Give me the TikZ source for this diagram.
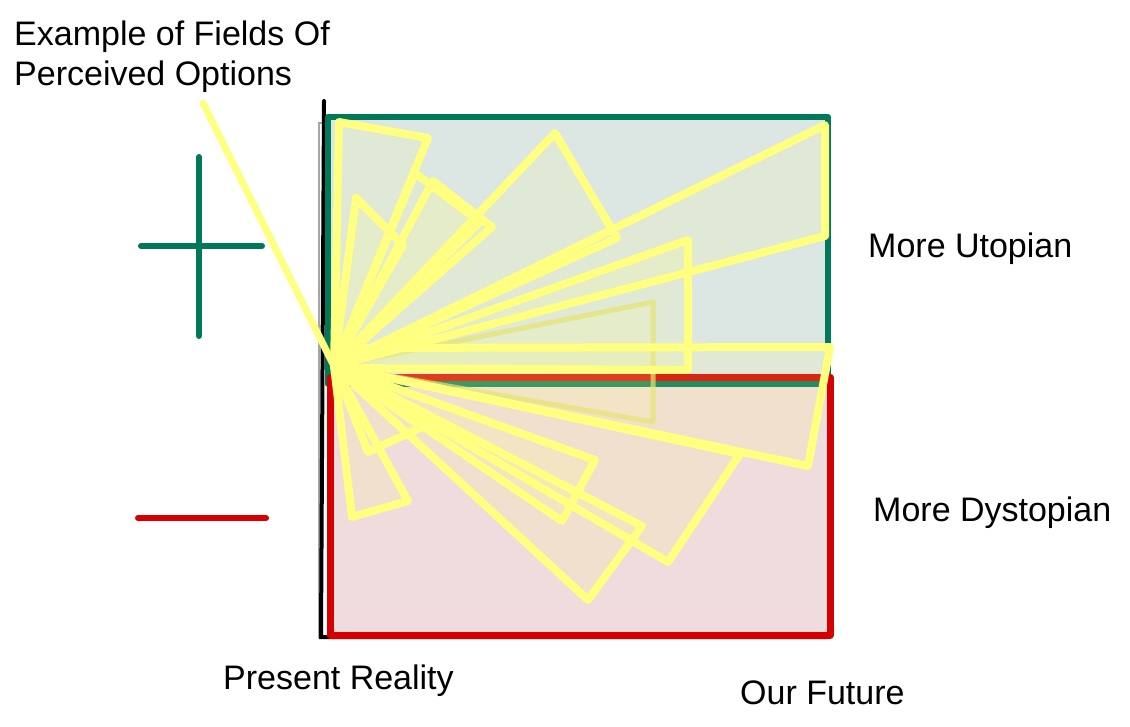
\documentclass[tikz,border=0pt]{standalone}
\usepackage{fontspec}
\setmainfont{Liberation Sans}
\definecolor{boxgreen}{RGB}{0,120,90}
\definecolor{boxred}{RGB}{214,0,0}
\definecolor{fillgreen}{RGB}{220,230,227}
\definecolor{fillred}{RGB}{240,220,221}
\definecolor{fanyellow}{RGB}{255,255,128}
\definecolor{fanolive}{RGB}{225,225,110}
\begin{document}
\begin{tikzpicture}[x=1pt,y=-1pt,
  lbl/.style={anchor=base west, inner sep=0pt, font=\fontsize{34}{40}\selectfont},
  tri/.style={draw=fanyellow, line width=8pt, line join=round, line cap=round,
              fill=fanyellow, fill opacity=0.14},
  faint/.style={draw=fanolive, draw opacity=0.7, line width=5pt, line join=round,
              fill=fanyellow, fill opacity=0.12},
  sign/.style={line width=6pt, line cap=round}]
\useasboundingbox (0,0) rectangle (1130,727);

% axes / frame
\draw[gray!70, line width=1.5pt] (319,123) rectangle (826,637);
\draw[black, line width=4pt, line cap=round] (324,101) -- (321,637) -- (828,637);

% boxes
\fill[fillgreen] (328,117) rectangle (828,384);
\fill[fillred] (330,377) rectangle (830,635);
\draw[boxgreen, line width=6pt, line join=round] (328,117) rectangle (828,384);
\draw[boxred, line width=7pt, line join=round] (330,377) rectangle (830,635);

% plus / minus signs
\draw[sign, boxgreen] (199,157) -- (199,336);
\draw[sign, boxgreen] (141,246) -- (262,246);
\draw[sign, boxred] (138,518) -- (266,518);

% fan of perceived options
\coordinate (o) at (334,366);
\coordinate (oh) at (338,348);
\coordinate (ol) at (340,368);
\draw[faint] (o) -- (653,302) -- (653,422) -- cycle;
\draw[tri] (o) -- (339,122) -- (428,138) -- cycle;
\draw[tri] (o) -- (356,198) -- (403,245) -- cycle;
\draw[tri] (o) -- (415,173) -- (480,222) -- cycle;
\draw[tri] (o) -- (433,181) -- (492,227) -- cycle;
\draw[tri] (o) -- (555,133) -- (617,238) -- cycle;
\draw[tri] (o) -- (825,125) -- (825,236) -- cycle;
\draw[tri] (o) -- (688,240) -- (688,370) -- (ol) -- cycle;
\draw[tri] (o) -- (oh) -- (830,347) -- (808,466) -- cycle;
\draw[tri] (o) -- (740,454) -- (668,562) -- cycle;
\draw[tri] (o) -- (642,526) -- (588,600) -- cycle;
\draw[tri] (o) -- (595,460) -- (562,521) -- cycle;
\draw[tri] (o) -- (422,427) -- (368,452) -- cycle;
\draw[tri] (o) -- (408,501) -- (352,517) -- cycle;

% labels
\node[lbl] (title1) at (14,46) {Example of Fields Of};
\node[lbl] (title2) at (14,86) {Perceived Options};
\coordinate (ptr) at (203,103);
\draw[fanyellow, line width=7pt, line cap=round] (ptr) -- (o);
\node[lbl] (uto) at (868,258) {More Utopian};
\node[lbl] (dys) at (873,521) {More Dystopian};
\node[lbl] (pres) at (223,689) {Present Reality};
\node[lbl] (fut) at (740,704) {Our Future};
\end{tikzpicture}
\end{document}
